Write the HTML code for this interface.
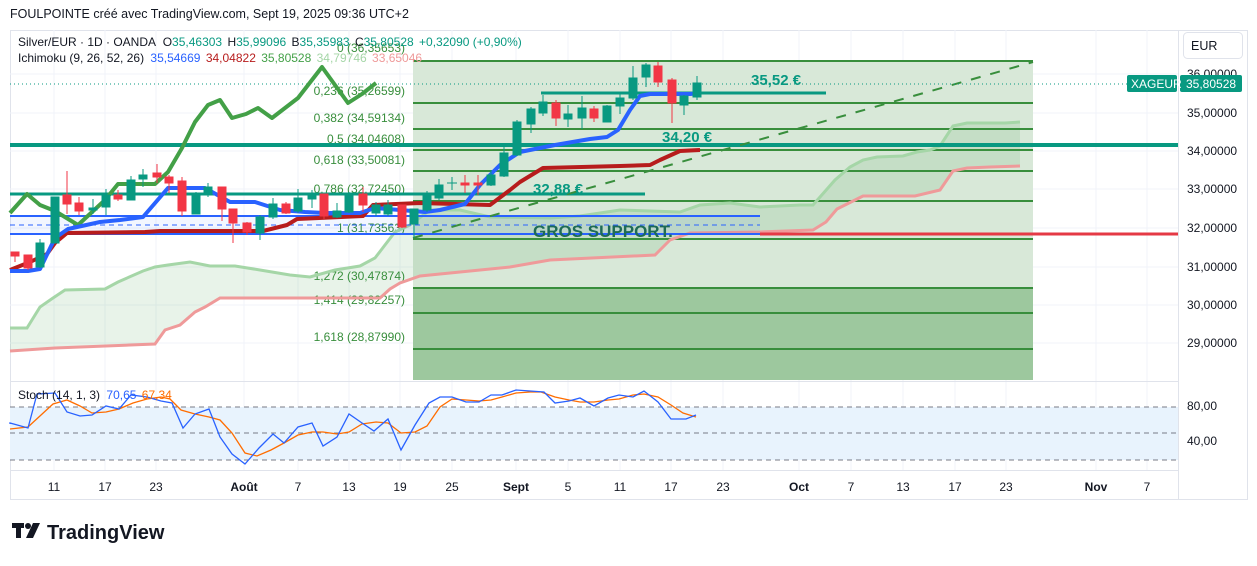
<!DOCTYPE html>
<html><head><meta charset="utf-8"><style>
body{margin:0;background:#fff;width:1257px;height:561px;overflow:hidden;font-family:"Liberation Sans",sans-serif}
svg text{font-family:"Liberation Sans",sans-serif}
</style></head><body>
<svg width="1257" height="561" xmlns="http://www.w3.org/2000/svg">
<text x="10" y="18" font-size="12.5" fill="#131722">FOULPOINTE créé avec TradingView.com, Sept 19, 2025 09:36 UTC+2</text>
<rect x="10.5" y="30.5" width="1237" height="469" fill="#fff" stroke="#e0e3eb"/>
<g stroke="#f0f3fa" stroke-width="1">
<line x1="10" y1="74" x2="1178" y2="74"/><line x1="10" y1="113" x2="1178" y2="113"/><line x1="10" y1="151" x2="1178" y2="151"/><line x1="10" y1="189" x2="1178" y2="189"/><line x1="10" y1="228" x2="1178" y2="228"/><line x1="10" y1="267" x2="1178" y2="267"/><line x1="10" y1="305" x2="1178" y2="305"/><line x1="10" y1="343" x2="1178" y2="343"/>
<line x1="54" y1="30" x2="54" y2="470"/><line x1="105" y1="30" x2="105" y2="470"/><line x1="156" y1="30" x2="156" y2="470"/><line x1="244" y1="30" x2="244" y2="470"/><line x1="298" y1="30" x2="298" y2="470"/><line x1="349" y1="30" x2="349" y2="470"/><line x1="400" y1="30" x2="400" y2="470"/><line x1="452" y1="30" x2="452" y2="470"/><line x1="516" y1="30" x2="516" y2="470"/><line x1="568" y1="30" x2="568" y2="470"/><line x1="620" y1="30" x2="620" y2="470"/><line x1="671" y1="30" x2="671" y2="470"/><line x1="723" y1="30" x2="723" y2="470"/><line x1="799" y1="30" x2="799" y2="470"/><line x1="851" y1="30" x2="851" y2="470"/><line x1="903" y1="30" x2="903" y2="470"/><line x1="955" y1="30" x2="955" y2="470"/><line x1="1006" y1="30" x2="1006" y2="470"/><line x1="1096" y1="30" x2="1096" y2="470"/><line x1="1147" y1="30" x2="1147" y2="470"/>
</g>
<line x1="1178.5" y1="30" x2="1178.5" y2="500" stroke="#e0e3eb"/>
<line x1="10" y1="381.5" x2="1178" y2="381.5" stroke="#e0e3eb"/>
<rect x="413" y="60" width="620" height="228" fill="#d8e8d8"/>
<rect x="413" y="288" width="620" height="92" fill="#9dc89e"/>
<g stroke="#388e3c" stroke-width="2">
<line x1="413" y1="61" x2="1033" y2="61"/><line x1="413" y1="103" x2="1033" y2="103"/><line x1="413" y1="129" x2="1033" y2="129"/><line x1="413" y1="150" x2="1033" y2="150"/><line x1="413" y1="171" x2="1033" y2="171"/><line x1="413" y1="201" x2="1033" y2="201"/><line x1="413" y1="239" x2="1033" y2="239"/><line x1="413" y1="288" x2="1033" y2="288"/><line x1="413" y1="313" x2="1033" y2="313"/><line x1="413" y1="349" x2="1033" y2="349"/>
</g>
<g font-size="12" fill="#388e3c" text-anchor="end">
<text x="405" y="52">0 (36,35653)</text><text x="405" y="95">0,236 (35,26599)</text><text x="405" y="122">0,382 (34,59134)</text><text x="405" y="143">0,5 (34,04608)</text><text x="405" y="164">0,618 (33,50081)</text><text x="405" y="193">0,786 (32,72450)</text><text x="405" y="232">1 (31,73563)</text><text x="405" y="280">1,272 (30,47874)</text><text x="405" y="304">1,414 (29,82257)</text><text x="405" y="341">1,618 (28,87990)</text>
</g>
<polygon fill="rgba(67,160,71,0.12)" points="10,328 27,328 40,307 53,298 65,290 105,289 118,282 143,271 155,267 168,265 190,262 210,266 235,266 260,270 290,275 310,277 335,270 360,266 375,258 395,232 410,225 430,210 460,210 490,217 550,218 580,216 620,210 680,212 700,205 730,203 760,207 800,205 813,205 835,180 850,167 863,160 877,157 903,156 917,152 930,150 940,146 953,126 967,123 1005,123 1020,122 1020,166 990,167 967,168 953,171 940,190 915,196 863,196 837,209 826,222 813,230 760,232 690,233 670,240 655,255 550,260 510,267 420,276 400,283 390,289 380,298 220,298 205,307 195,312 180,325 165,330 155,344 55,348 10,351"/>
<polyline fill="none" stroke="#a5d6a7" stroke-width="3" points="10,328 27,328 40,307 53,298 65,290 105,289 118,282 143,271 155,267 168,265 190,262 210,266 235,266 260,270 290,275 310,277 335,270 360,266 375,258 395,232 410,225 430,210 460,210 490,217 550,218 580,216 620,210 680,212 700,205 730,203 760,207 800,205 813,205 835,180 850,167 863,160 877,157 903,156 917,152 930,150 940,146 953,126 967,123 1005,123 1020,122"/>
<polyline fill="none" stroke="#ef9a9a" stroke-width="3" points="10,351 55,348 155,344 165,330 180,325 195,312 205,307 220,298 380,298 390,289 400,283 420,276 510,267 550,260 655,255 670,240 690,233 760,232 813,230 826,222 837,209 863,196 915,196 940,190 953,171 967,168 990,167 1020,166"/>
<rect x="10" y="216" width="750" height="18" fill="rgba(41,98,255,0.06)"/>
<line x1="10" y1="216" x2="760" y2="216" stroke="#2962ff" stroke-width="2"/>
<line x1="10" y1="225" x2="760" y2="225" stroke="#2962ff" stroke-width="1" stroke-dasharray="5,4"/>
<line x1="10" y1="234" x2="760" y2="234" stroke="#2962ff" stroke-width="2"/>
<line x1="760" y1="234" x2="1178" y2="234" stroke="#e53945" stroke-width="3"/>
<line x1="10" y1="145" x2="1178" y2="145" stroke="#089981" stroke-width="4"/>
<line x1="10" y1="194" x2="645" y2="194" stroke="#089981" stroke-width="3"/>
<line x1="541" y1="93" x2="826" y2="93" stroke="#089981" stroke-width="3"/>
<line x1="413" y1="238" x2="1033" y2="62" stroke="#388e3c" stroke-width="2" stroke-dasharray="10,10"/>
<line x1="10" y1="84" x2="1127" y2="84" stroke="#089981" stroke-width="1" stroke-dasharray="1,3"/>
<polyline fill="none" stroke="#43a047" stroke-width="4" stroke-linejoin="round" points="10,213 27,194 40,205 55,211 78,225 105,200 118,184 155,184 168,172 182,148 195,122 208,105 220,100 232,118 246,114 258,108 272,118 298,98 322,67 348,103 362,94 376,83"/>
<polyline fill="none" stroke="#b71c1c" stroke-width="4" stroke-linejoin="round" points="10,270 30,262 47,254 55,243 67,233 145,232 160,231 263,231 287,225 297,219 363,216 373,205 420,203 490,205 510,190 520,182 543,168 620,166 650,165 660,160 680,151 700,150"/>
<polyline fill="none" stroke="#2962ff" stroke-width="4" stroke-linejoin="round" points="10,271 28,271 40,269 55,238 68,229 100,222 120,220 143,217 168,188 205,188 230,202 255,202 280,210 305,212 325,213 360,213 375,208 400,210 425,212 440,210 465,204 480,185 500,165 520,152 555,145 590,139 607,137 618,130 630,110 640,96 650,94 690,94 700,93"/>
<g>
<g stroke="#f23645" fill="#f23645">
<line x1="15" y1="252" x2="15" y2="262"/><rect x="11" y="252" width="8" height="4"/>
<line x1="28" y1="255" x2="28" y2="270"/><rect x="24" y="255" width="8" height="13"/>
<line x1="67" y1="171" x2="67" y2="214"/><rect x="63" y="195" width="8" height="9"/>
<line x1="79" y1="197" x2="79" y2="215"/><rect x="75" y="203" width="8" height="8"/>
<line x1="118" y1="190" x2="118" y2="201"/><rect x="114" y="195" width="8" height="4"/>
<line x1="157" y1="164" x2="157" y2="183"/><rect x="153" y="173" width="8" height="4"/>
<line x1="169" y1="175" x2="169" y2="193"/><rect x="165" y="177" width="8" height="6"/>
<line x1="182" y1="177" x2="182" y2="216"/><rect x="178" y="181" width="8" height="30"/>
<line x1="222" y1="187" x2="222" y2="221"/><rect x="218" y="187" width="8" height="22"/>
<line x1="233" y1="209" x2="233" y2="243"/><rect x="229" y="209" width="8" height="14"/>
<line x1="247" y1="222" x2="247" y2="235"/><rect x="243" y="223" width="8" height="9"/>
<line x1="286" y1="202" x2="286" y2="214"/><rect x="282" y="204" width="8" height="9"/>
<line x1="324" y1="194" x2="324" y2="219"/><rect x="320" y="194" width="8" height="22"/>
<line x1="363" y1="187" x2="363" y2="212"/><rect x="359" y="194" width="8" height="11"/>
<line x1="402" y1="205" x2="402" y2="228"/><rect x="398" y="205" width="8" height="22"/>
<line x1="465" y1="175" x2="465" y2="193"/><rect x="461" y="183" width="8" height="2"/>
<line x1="478" y1="175" x2="478" y2="195"/><rect x="474" y="183" width="8" height="2"/>
<line x1="556" y1="100" x2="556" y2="126"/><rect x="552" y="103" width="8" height="15"/>
<line x1="594" y1="106" x2="594" y2="122"/><rect x="590" y="109" width="8" height="9"/>
<line x1="658" y1="62" x2="658" y2="87"/><rect x="654" y="66" width="8" height="16"/>
<line x1="672" y1="78" x2="672" y2="123"/><rect x="668" y="80" width="8" height="23"/>
</g>
<g stroke="#089981" fill="#089981">
<line x1="40" y1="239" x2="40" y2="268"/><rect x="36" y="243" width="8" height="24"/>
<line x1="55" y1="197" x2="55" y2="243"/><rect x="51" y="197" width="8" height="46"/>
<line x1="93" y1="199" x2="93" y2="214"/><rect x="89" y="208" width="8" height="2"/>
<line x1="106" y1="189" x2="106" y2="215"/><rect x="102" y="195" width="8" height="12"/>
<line x1="131" y1="176" x2="131" y2="200"/><rect x="127" y="180" width="8" height="20"/>
<line x1="143" y1="169" x2="143" y2="187"/><rect x="139" y="175" width="8" height="4"/>
<line x1="196" y1="192" x2="196" y2="214"/><rect x="192" y="194" width="8" height="20"/>
<line x1="208" y1="183" x2="208" y2="197"/><rect x="204" y="187" width="8" height="8"/>
<line x1="260" y1="215" x2="260" y2="240"/><rect x="256" y="217" width="8" height="16"/>
<line x1="273" y1="198" x2="273" y2="219"/><rect x="269" y="204" width="8" height="13"/>
<line x1="298" y1="189" x2="298" y2="213"/><rect x="294" y="198" width="8" height="13"/>
<line x1="312" y1="190" x2="312" y2="208"/><rect x="308" y="194" width="8" height="5"/>
<line x1="337" y1="203" x2="337" y2="218"/><rect x="333" y="211" width="8" height="6"/>
<line x1="349" y1="192" x2="349" y2="213"/><rect x="345" y="194" width="8" height="18"/>
<line x1="376" y1="202" x2="376" y2="216"/><rect x="372" y="205" width="8" height="8"/>
<line x1="388" y1="200" x2="388" y2="216"/><rect x="384" y="205" width="8" height="9"/>
<line x1="414" y1="209" x2="414" y2="238"/><rect x="410" y="209" width="8" height="15"/>
<line x1="427" y1="191" x2="427" y2="212"/><rect x="423" y="195" width="8" height="15"/>
<line x1="439" y1="179" x2="439" y2="200"/><rect x="435" y="185" width="8" height="13"/>
<line x1="452" y1="177" x2="452" y2="190"/><line x1="447" y1="183" x2="457" y2="183"/>
<line x1="491" y1="170" x2="491" y2="186"/><rect x="487" y="175" width="8" height="10"/>
<line x1="504" y1="147" x2="504" y2="177"/><rect x="500" y="153" width="8" height="23"/>
<line x1="517" y1="120" x2="517" y2="156"/><rect x="513" y="122" width="8" height="33"/>
<line x1="531" y1="107" x2="531" y2="133"/><rect x="527" y="109" width="8" height="15"/>
<line x1="543" y1="95" x2="543" y2="116"/><rect x="539" y="102" width="8" height="11"/>
<line x1="568" y1="105" x2="568" y2="127"/><rect x="564" y="114" width="8" height="5"/>
<line x1="582" y1="96" x2="582" y2="129"/><rect x="578" y="108" width="8" height="10"/>
<line x1="607" y1="105" x2="607" y2="122"/><rect x="603" y="106" width="8" height="16"/>
<line x1="620" y1="92" x2="620" y2="114"/><rect x="616" y="98" width="8" height="8"/>
<line x1="633" y1="66" x2="633" y2="100"/><rect x="629" y="78" width="8" height="20"/>
<line x1="646" y1="63" x2="646" y2="87"/><rect x="642" y="65" width="8" height="12"/>
<line x1="684" y1="95" x2="684" y2="115"/><rect x="680" y="96" width="8" height="9"/>
<line x1="697" y1="76" x2="697" y2="100"/><rect x="693" y="83" width="8" height="14"/>
</g>
</g>
<g font-size="15" font-weight="bold" fill="#089981">
<text x="751" y="85">35,52 €</text><text x="662" y="142">34,20 €</text><text x="533" y="194">32,88 €</text>
</g>
<text x="533" y="237" font-size="17" font-weight="bold" fill="#1e6b55">GROS SUPPORT.</text>
<g font-size="12">
<text x="18" y="46" fill="#131722">Silver/EUR · 1D · OANDA <tspan dx="4">O</tspan><tspan fill="#089981">35,46303</tspan> <tspan dx="2">H</tspan><tspan fill="#089981">35,99096</tspan> <tspan dx="2">B</tspan><tspan fill="#089981">35,35983</tspan> <tspan dx="2">C</tspan><tspan fill="#089981">35,80528</tspan> <tspan dx="2" fill="#089981">+0,32090 (+0,90%)</tspan></text>
<text x="18" y="62" fill="#131722">Ichimoku (9, 26, 52, 26) <tspan dx="3" fill="#2962ff">35,54669</tspan> <tspan dx="2" fill="#b71c1c">34,04822</tspan> <tspan dx="2" fill="#43a047">35,80528</tspan> <tspan dx="2" fill="#a5d6a7">34,79746</tspan> <tspan dx="2" fill="#ef9a9a">33,65046</tspan></text>
</g>
<rect x="1183.5" y="32.5" width="59" height="26" rx="4" fill="#fff" stroke="#e0e3eb"/>
<text x="1191" y="50" font-size="12.5" fill="#131722">EUR</text>
<g font-size="12" fill="#131722">
<text x="1187" y="78">36,00000</text><text x="1187" y="117">35,00000</text><text x="1187" y="155">34,00000</text><text x="1187" y="193">33,00000</text><text x="1187" y="232">32,00000</text><text x="1187" y="271">31,00000</text><text x="1187" y="309">30,00000</text><text x="1187" y="347">29,00000</text>
<text x="1187" y="410">80,00</text><text x="1187" y="445">40,00</text>
</g>
<rect x="1127" y="75" width="50" height="17" rx="2" fill="#089981"/>
<rect x="1180" y="75" width="62" height="17" rx="2" fill="#089981"/>
<text x="1131" y="88" font-size="12" fill="#fff">XAGEUR</text>
<text x="1186" y="88" font-size="12" fill="#fff">35,80528</text>
<rect x="10" y="407" width="1168" height="53" fill="#e8f3fd"/>
<g stroke="#787b86" stroke-dasharray="5,4" stroke-width="1">
<line x1="10" y1="407" x2="1178" y2="407"/><line x1="10" y1="433" x2="1178" y2="433"/><line x1="10" y1="460" x2="1178" y2="460"/>
</g>
<polyline fill="none" stroke="#ff6d00" stroke-width="1.3" points="10,429 28,427 53,404 67,400 80,406 92,413 106,412 119,409 133,403 147,399 161,397 170,399 181,410 195,414 209,417 220,420 232,433 245,453 257,456 271,450 284,443 298,435 312,432 323,432 337,434 349,432 362,424 376,422 388,423 401,433 415,432 427,426 440,407 452,399 466,400 479,401 491,400 502,397 516,393 530,392 541,392 555,397 569,400 580,402 594,402 608,400 619,399 633,395 644,394 658,397 671,405 683,413 696,417"/>
<polyline fill="none" stroke="#2962ff" stroke-width="1.3" points="10,424 10,423 28,428 37,394 55,393 67,412 80,416 92,415 106,406 119,409 131,395 147,397 161,401 172,403 183,428 195,414 209,409 220,437 232,454 245,464 259,448 273,434 284,443 298,427 312,423 323,446 337,437 349,414 362,423 374,431 388,419 401,450 415,425 429,403 440,397 452,397 466,402 479,402 491,395 502,395 516,390 530,391 544,392 555,403 569,401 580,398 594,406 608,398 619,395 633,397 644,391 658,402 671,419 686,419 696,415"/>
<text x="18" y="399" font-size="12" fill="#131722">Stoch (14, 1, 3) <tspan dx="3" fill="#2962ff">70,65</tspan> <tspan dx="2" fill="#ff6d00">67,34</tspan></text>
<line x1="10" y1="470.5" x2="1178" y2="470.5" stroke="#e0e3eb"/>
<g font-size="12" fill="#131722" text-anchor="middle">
<text x="54" y="491">11</text><text x="105" y="491">17</text><text x="156" y="491">23</text><text x="244" y="491" font-weight="bold">Août</text><text x="298" y="491">7</text><text x="349" y="491">13</text><text x="400" y="491">19</text><text x="452" y="491">25</text><text x="516" y="491" font-weight="bold">Sept</text><text x="568" y="491">5</text><text x="620" y="491">11</text><text x="671" y="491">17</text><text x="723" y="491">23</text><text x="799" y="491" font-weight="bold">Oct</text><text x="851" y="491">7</text><text x="903" y="491">13</text><text x="955" y="491">17</text><text x="1006" y="491">23</text><text x="1096" y="491" font-weight="bold">Nov</text><text x="1147" y="491">7</text>
</g>
<g fill="#131722">
<rect x="12" y="523" width="12" height="5"/><rect x="16" y="523" width="5" height="15"/>
<circle cx="28" cy="526" r="3"/><polygon points="33,523 40,523 33,538 26,538"/>
</g>
<text x="47" y="539" font-size="20" font-weight="bold" fill="#131722">TradingView</text>
</svg>
</body></html>
